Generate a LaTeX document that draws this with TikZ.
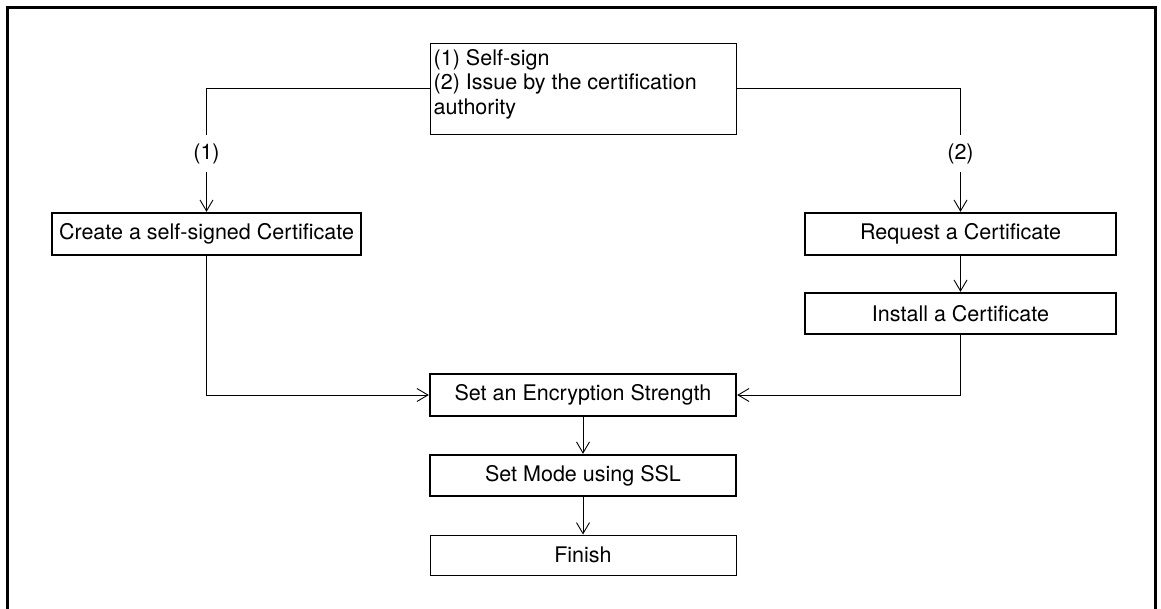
\documentclass[tikz,border=0pt]{standalone}
\usepackage{fontspec}
\setmainfont{TeX Gyre Heros}
\usetikzlibrary{arrows.meta}
\tikzset{
  base/.style={draw, rectangle, inner sep=0pt, font=\fontsize{21.5}{24.5}\selectfont},
  thickbox/.style={base, line width=2.4pt},
  thinbox/.style={base, line width=1pt},
  arr/.style={line width=0.9pt, -{Straight Barb[length=11pt,width=13pt,line width=0.9pt]}},
  conn/.style={line width=0.9pt},
  lbl/.style={fill=white, inner xsep=2pt, inner ysep=8pt, font=\fontsize{21.5}{24.5}\selectfont}
}
\begin{document}
\begin{tikzpicture}[x=1pt,y=-1pt]
\useasboundingbox (0,0) rectangle (1161,608);
\draw[line width=3pt] (7.5,7) rectangle (1155,640);

\node[thinbox, minimum width=306pt, minimum height=91pt] (top) at (583,88.5) {};
\node[font=\fontsize{21.5}{24.5}\selectfont, anchor=north west, align=left, inner sep=0pt] (toptext) at (433.5,49) {(1) Self-sign\\(2) Issue by the certification\\authority};

\node[thickbox, minimum width=309pt, minimum height=42pt] (create) at (206.5,234) {Create a self-signed Certificate};
\node[thickbox, minimum width=311pt, minimum height=42pt] (request) at (960.5,234) {Request a Certificate};
\node[thickbox, minimum width=311pt, minimum height=41pt] (install) at (960.5,313.5) {Install a Certificate};
\node[thickbox, minimum width=306pt, minimum height=42pt] (enc) at (583,395) {Set an Encryption Strength};
\node[thickbox, minimum width=306pt, minimum height=41pt] (mode) at (583,475.5) {Set Mode using SSL};
\node[thinbox, minimum width=306pt, minimum height=40pt] (finish) at (583,555) {Finish};

\draw[arr] (top.west) -| node[lbl, pos=0.764] {(1)} (create.north);
\draw[arr] (top.east) -| node[lbl, pos=0.764] {(2)} (request.north);
\draw[arr] (request) -- (install);
\draw[arr] (create.south) |- (enc.west);
\draw[arr] (install.south) |- (enc.east);
\draw[arr] (enc) -- (mode);
\draw[arr] (mode) -- (finish);
\end{tikzpicture}
\end{document}
